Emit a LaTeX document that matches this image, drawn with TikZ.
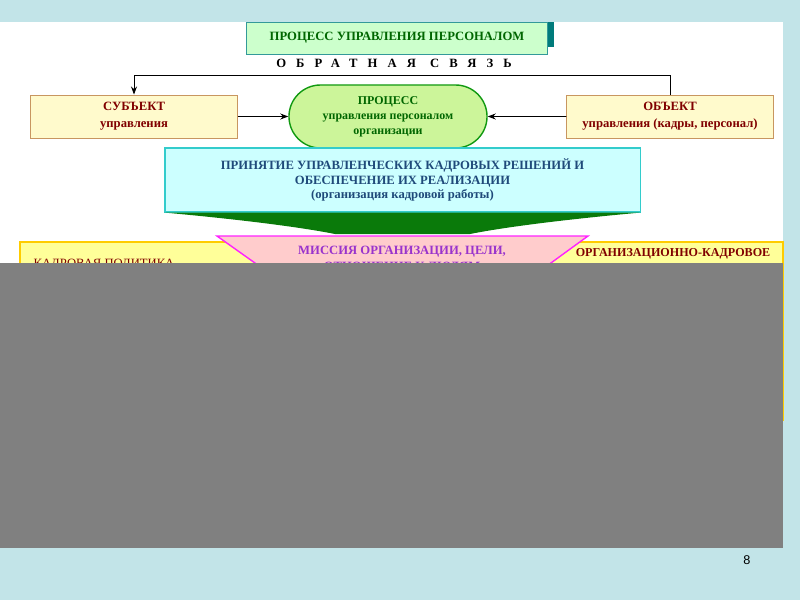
\documentclass[tikz,border=0pt]{standalone}
\usepackage{fontspec}
\setmainfont{Liberation Serif}
\setsansfont{Liberation Sans}
\newfontfamily\spacedfont[LetterSpace=80]{Liberation Serif}
\usetikzlibrary{arrows.meta,positioning,shapes.misc}
\definecolor{slideblue}{HTML}{C2E4E8}
\definecolor{titlefill}{HTML}{CCFFCC}
\definecolor{titledraw}{HTML}{339999}
\definecolor{titleshadow}{HTML}{007B7B}
\definecolor{titletext}{HTML}{006600}
\definecolor{sidefill}{HTML}{FFFACC}
\definecolor{sidedraw}{HTML}{C89660}
\definecolor{sidetext}{HTML}{800000}
\definecolor{procfill}{HTML}{CCF59A}
\definecolor{procdraw}{HTML}{119911}
\definecolor{decfill}{HTML}{CCFFFF}
\definecolor{decdraw}{HTML}{33CCCC}
\definecolor{dectext}{HTML}{1F4A7A}
\definecolor{arrowgreen}{HTML}{0A7A0A}
\definecolor{misfill}{HTML}{FFCCCC}
\definecolor{misdraw}{HTML}{FF22FF}
\definecolor{mistext}{HTML}{9933CC}
\definecolor{polfill}{HTML}{FFFF99}
\definecolor{poldraw}{HTML}{FFCC00}
\definecolor{grayblock}{HTML}{808080}

\begin{document}
\begin{tikzpicture}[x=0.025cm, y=-0.025cm, >=Stealth,
  txt/.style={font=\bfseries\fontsize{9}{11}\selectfont, align=center, inner sep=0pt},
  titlebox/.style={txt, draw=titledraw, fill=titlefill, text=titletext, line width=0.7pt,
                   minimum width=75mm, minimum height=8mm},
  sidebox/.style={txt, draw=sidedraw, fill=sidefill, text=sidetext, line width=0.7pt,
                  minimum width=51.5mm, minimum height=10.75mm,
                  font=\bfseries\fontsize{9}{12}\selectfont},
  procbox/.style={txt, rounded rectangle, draw=procdraw, fill=procfill, text=titletext,
                  line width=1pt, minimum width=49.5mm, minimum height=15.75mm,
                  font=\bfseries\fontsize{8.5}{10.6}\selectfont},
  decbox/.style={txt, draw=decdraw, fill=decfill, text=dectext, line width=0.8pt,
                 minimum width=118.75mm, minimum height=16mm,
                 font=\bfseries\fontsize{9}{10.6}\selectfont},
  link/.style={->, line width=0.6pt}]
  % slide background
  \fill[slideblue] (0,0) rectangle (800,600);
  \fill[white] (0,22) rectangle (783,263);
  \useasboundingbox (0,0) rectangle (800,600);
  % top row
  \fill[titleshadow] (540,22) rectangle (554,47);
  \node[titlebox] (title) at (397,38) {ПРОЦЕСС УПРАВЛЕНИЯ ПЕРСОНАЛОМ};
  \node[txt, text=black] (fb) at (394,63)
    {{\spacedfont ОБРАТНАЯ}\hspace{10pt}{\spacedfont СВЯЗЬ}};
  \node[sidebox] (subj) at (134,116.5) {СУБЪЕКТ\\управления};
  \node[procbox] (proc) at (388,116.5) {ПРОЦЕСС\\управления персоналом\\организации};
  \node[sidebox] (obj) at (670,116.5) {ОБЪЕКТ\\управления (кадры, персонал)};
  \draw[link] (obj.north) -- ++(0,-19) -| (subj.north);
  \draw[link] (subj) -- (proc);
  \draw[link] (obj) -- (proc);
  % decisions and green arrow
  \node[decbox] (dec) at (402.5,180) {ПРИНЯТИЕ УПРАВЛЕНЧЕСКИХ КАДРОВЫХ РЕШЕНИЙ И\\
    ОБЕСПЕЧЕНИЕ ИХ РЕАЛИЗАЦИИ\\(организация кадровой работы)};
  \fill[arrowgreen] (dec.south west) -- (dec.south east)
    .. controls (580,218) and (510,226) .. (470,234) -- (335,234)
    .. controls (295,226) and (225,218) .. (dec.south west);
  % lower row
  \filldraw[fill=polfill, draw=poldraw, line width=1pt] (20,242) rectangle (270,420);
  \filldraw[fill=polfill, draw=poldraw, line width=1pt] (540,242) rectangle (783,420);
  \filldraw[fill=misfill, draw=misdraw, line width=1pt]
    (217,236) -- (588,236) -- (500,300) -- (307,300) -- cycle;
  \node[txt, text=mistext] (mis1) at (402,252) {МИССИЯ ОРГАНИЗАЦИИ, ЦЕЛИ,};
  \node[txt, text=mistext] (mis2) at (402,268) {ОТНОШЕНИЕ К ЛЮДЯМ};
  \node[txt, text=sidetext, font=\fontsize{9}{11}\selectfont] (pol) at (104,265) {КАДРОВАЯ ПОЛИТИКА};
  \node[txt, text=sidetext, font=\bfseries\fontsize{8.6}{11}\selectfont] (org) at (673,254) {ОРГАНИЗАЦИОННО-КАДРОВОЕ};
  % covered part
  \fill[grayblock] (0,263) rectangle (783,548);
  \node[font=\sffamily\fontsize{9}{9}\selectfont] (pnum) at (747,560) {8};
\end{tikzpicture}
\end{document}
